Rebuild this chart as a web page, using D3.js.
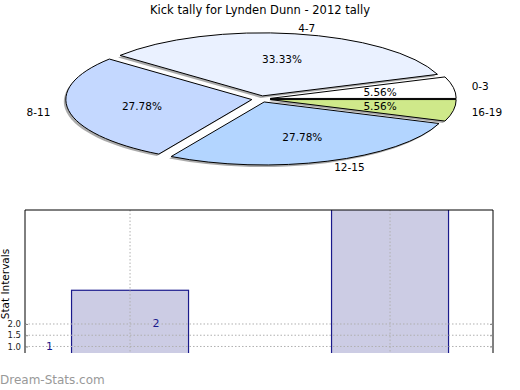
<!DOCTYPE html>
<html>
<head>
<meta charset="utf-8">
<script src="https://cdn.jsdelivr.net/npm/d3@7"></script>
<style>
  body { margin: 0; background: #fff; }
  svg { display: block; font-family: "DejaVu Sans", sans-serif; }
</style>
</head>
<body>
<div id="chart"></div>
<script>
// Pie data
const pieLabels = ['0-3', '4-7', '8-11', '12-15', '16-19'];
const pieValues = [1, 6, 5, 5, 1];
const pieColors = ['#ffffff', '#eaf1ff', '#c4d8ff', '#b3d5ff', '#cfe98a'];

// Bar data
const barPositions = [0, 1];
const barValues = [3.5, 8];
const labelX = [-0.31, 0.1];
const labelValues = [1, 2];
const yTicks = [1.0, 1.5, 2.0];

const W = 520, H = 390;
const svg = d3.select('#chart').append('svg')
  .attr('width', W).attr('height', H);

// Title
svg.append('text')
  .attr('x', 260).attr('y', 14)
  .attr('text-anchor', 'middle')
  .style('font-size', '11.5px')
  .text('Kick tally for Lynden Dunn - 2012 tally');

// ---- Pie ----
const cx = 261, cy = 99, rx = 186, ry = 63, explode = 0.05;

const pie = d3.pie().sort(null)
  .startAngle(Math.PI / 2)
  .endAngle(Math.PI / 2 - 2 * Math.PI);
const arcs = pie(pieValues);
const arc = d3.arc().innerRadius(0).outerRadius(1);
const total = d3.sum(pieValues);

function offset(d, k) {
  const mid = (d.startAngle + d.endAngle) / 2;
  return [rx * k * Math.sin(mid), -ry * k * Math.cos(mid)];
}

const pieG = svg.append('g');

// shadows
pieG.selectAll('.shadow')
  .data(arcs).enter().append('path')
  .attr('class', 'shadow')
  .attr('transform', d => {
    const [dx, dy] = offset(d, explode);
    return `translate(${cx + dx - 2},${cy + dy + 2}) scale(${rx},${ry})`;
  })
  .attr('d', arc)
  .style('fill', '#666')
  .style('opacity', 0.55);

pieG.selectAll('.slice')
  .data(arcs).enter().append('path')
  .attr('class', 'slice')
  .attr('transform', d => {
    const [dx, dy] = offset(d, explode);
    return `translate(${cx + dx},${cy + dy}) scale(${rx},${ry})`;
  })
  .attr('d', arc)
  .attr('vector-effect', 'non-scaling-stroke')
  .style('fill', (d, i) => pieColors[i])
  .style('stroke', '#000')
  .style('stroke-width', 1);

// percentage labels
pieG.selectAll('.pct')
  .data(arcs).enter().append('text')
  .attr('x', d => cx + offset(d, explode)[0] + offset(d, 0.6)[0])
  .attr('y', d => cy + offset(d, explode)[1] + offset(d, 0.6)[1])
  .attr('text-anchor', 'middle')
  .attr('dominant-baseline', 'central')
  .style('font-size', '10.5px')
  .text(d => (d.value / total * 100).toFixed(2) + '%');

// category labels
pieG.selectAll('.lbl')
  .data(arcs).enter().append('text')
  .attr('x', d => cx + offset(d, explode)[0] + offset(d, 1.1)[0])
  .attr('y', d => cy + offset(d, explode)[1] + offset(d, 1.1)[1])
  .attr('text-anchor', d => offset(d, 1)[0] > 0 ? 'start' : 'end')
  .attr('dominant-baseline', 'central')
  .style('font-size', '10.5px')
  .text((d, i) => pieLabels[i]);

// ---- Bars ----
const plot = { left: 25, right: 493, top: 210, bottom: 353 };

const x = d3.scaleLinear().domain([-0.404, 1.396]).range([plot.left, plot.right]);
const y = d3.scaleLinear().domain([0.71, 7.07]).range([plot.bottom, plot.top]);
const barW = x(0.45) - x(0);

svg.append('clipPath').attr('id', 'clip')
  .append('rect')
  .attr('x', plot.left).attr('y', plot.top)
  .attr('width', plot.right - plot.left).attr('height', plot.bottom - plot.top);

const bg = svg.append('g').attr('clip-path', 'url(#clip)');

bg.selectAll('.bar')
  .data(barValues).enter().append('rect')
  .attr('x', (d, i) => x(barPositions[i]) - barW / 2)
  .attr('y', d => y(d))
  .attr('width', barW)
  .attr('height', d => y(0) - y(d))
  .style('fill', '#ccccE4')
  .style('stroke', '#1a1a8c')
  .style('stroke-width', 1.2);

// grid lines
bg.selectAll('.hgrid')
  .data(yTicks).enter().append('line')
  .attr('x1', plot.left).attr('x2', plot.right)
  .attr('y1', d => y(d)).attr('y2', d => y(d))
  .style('stroke', '#b0b0b0')
  .style('stroke-dasharray', '1.5,2');

bg.selectAll('.vgrid')
  .data(barPositions).enter().append('line')
  .attr('x1', d => x(d)).attr('x2', d => x(d))
  .attr('y1', plot.top).attr('y2', plot.bottom)
  .style('stroke', '#b0b0b0')
  .style('stroke-dasharray', '1.5,2');

// value labels
bg.selectAll('.vlbl')
  .data(labelValues).enter().append('text')
  .attr('x', (d, i) => x(labelX[i]))
  .attr('y', d => y(d))
  .attr('text-anchor', 'middle')
  .attr('dominant-baseline', 'central')
  .style('font-size', '11px')
  .style('fill', '#1a1a8c')
  .text(d => d);

// frame: top, left, right
svg.append('path')
  .attr('d', `M${plot.left},${plot.bottom}V${plot.top}H${plot.right}V${plot.bottom}`)
  .style('fill', 'none')
  .style('stroke', '#000')
  .style('stroke-width', 1);

// y axis
const yAxis = d3.axisLeft(y).tickValues(yTicks).tickFormat(d3.format('.1f')).tickSize(-3).tickPadding(4);
const axG = svg.append('g')
  .attr('transform', `translate(${plot.left},0)`)
  .call(yAxis);
axG.select('.domain').remove();
axG.selectAll('.tick line').style('stroke', '#888');
axG.selectAll('.tick text').style('font-size', '8.5px').style('font-family', '"DejaVu Sans", sans-serif').attr('fill', '#222');

const axR = svg.append('g')
  .attr('transform', `translate(${plot.right},0)`)
  .call(d3.axisRight(y).tickValues(yTicks).tickSize(-3).tickFormat(''));
axR.select('.domain').remove();
axR.selectAll('.tick line').style('stroke', '#888');

// y label
svg.append('text')
  .attr('transform', 'translate(9,284) rotate(-90)')
  .attr('text-anchor', 'middle')
  .style('font-size', '10.5px')
  .text('Stat Intervals');

// watermark
svg.append('text')
  .attr('x', 0).attr('y', 384)
  .style('font-size', '12px')
  .style('fill', '#999')
  .text('Dream-Stats.com');
</script>
</body>
</html>
